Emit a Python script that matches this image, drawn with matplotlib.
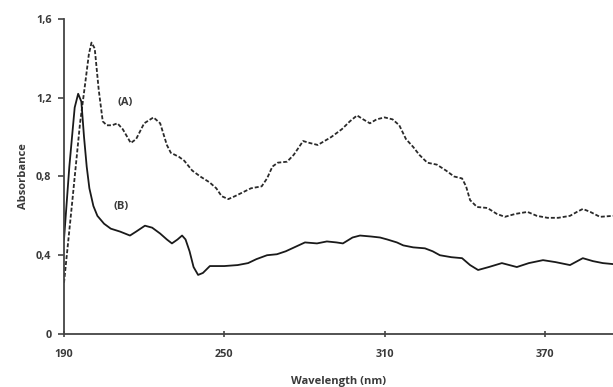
import matplotlib
matplotlib.use("Agg")
import matplotlib.pyplot as plt

# curve (A), dashed
wl_a = [190, 193, 196, 198, 199.3, 200.3, 201.5, 203, 204.5, 206, 208, 210, 212, 215, 217, 220,
        223.5, 226, 228.5, 230, 233, 235, 238, 241, 244.5, 247, 249, 251.5, 254, 257, 260, 264,
        266, 268, 270, 273.5, 276, 279.5, 282, 285, 290, 294, 297, 299.7, 302, 304.5, 307, 310,
        313, 315.5, 318, 320.7, 323, 326, 329.6, 333, 336, 339, 340.5, 342, 344.6, 348.5, 352,
        355, 359, 363.5, 367, 371, 375, 379.4, 382, 384.2, 387, 390.6, 395.5]
abs_a = [0.26, 0.66, 1.07, 1.28, 1.42, 1.48, 1.45, 1.24, 1.08, 1.06, 1.06, 1.07, 1.04, 0.97, 0.99, 1.07,
         1.10, 1.07, 0.96, 0.92, 0.90, 0.88, 0.83, 0.80, 0.77, 0.74, 0.70, 0.685, 0.70, 0.72, 0.74, 0.75,
         0.79, 0.85, 0.87, 0.875, 0.91, 0.98, 0.97, 0.96, 1.00, 1.04, 1.08, 1.11, 1.09, 1.07, 1.09, 1.10,
         1.09, 1.06, 0.99, 0.95, 0.91, 0.87, 0.86, 0.83, 0.80, 0.79, 0.75, 0.68, 0.645, 0.64, 0.61,
         0.595, 0.61, 0.62, 0.60, 0.59, 0.59, 0.60, 0.62, 0.635, 0.62, 0.595, 0.60]

# curve (B), solid
wl_b = [190, 192, 194, 195.3, 196.5, 197.5, 198.5, 199.5, 201, 202.5, 205, 207.5, 211, 214.7, 217,
        220.3, 223, 226, 228.5, 230.4, 232.5, 234.2, 235.5, 237, 238.5, 240.2, 242, 244.6, 250, 255,
        258.9, 262, 266, 269.7, 273, 277, 280.2, 284.7, 288.4, 292, 294.4, 298, 300.8, 305, 308.3,
        311, 314.6, 317, 320.7, 325.1, 328, 330.7, 335, 339, 342, 345, 349, 353.9, 359.5, 364,
        369.3, 374, 379.4, 384.2, 388, 391.7, 395.5]
abs_b = [0.48, 0.85, 1.15, 1.22, 1.18, 1.00, 0.85, 0.74, 0.65, 0.60, 0.56, 0.535, 0.52, 0.50, 0.52,
         0.55, 0.54, 0.51, 0.48, 0.46, 0.48, 0.50, 0.48, 0.42, 0.34, 0.30, 0.31, 0.345, 0.345, 0.35,
         0.36, 0.38, 0.40, 0.405, 0.42, 0.445, 0.465, 0.46, 0.47, 0.465, 0.46, 0.49, 0.50, 0.495, 0.49,
         0.48, 0.465, 0.45, 0.44, 0.435, 0.42, 0.40, 0.39, 0.385, 0.35, 0.325, 0.34, 0.36, 0.34, 0.36,
         0.375, 0.365, 0.35, 0.385, 0.37, 0.36, 0.355]

xticks = [190, 250, 310, 370]
yticks = [0, 0.4, 0.8, 1.2, 1.6]
ytick_labels = ["0", "0,4", "0,8", "1,2", "1,6"]

plt.rcParams['font.family'] = ['Open Sans', 'DejaVu Sans']
txt = '#3a3a3a'

fig = plt.figure(figsize=(6.13, 3.87), dpi=100)
ax = fig.add_axes([0.1044, 0.137, 0.8956, 0.814])

ax.plot(wl_a, abs_a, color='#2a2a2a', lw=1.3, linestyle=(0, (2.2, 1.1)))
ax.plot(wl_b, abs_b, color='#1a1a1a', lw=1.3)

ax.set_xlim(190, 395.5)
ax.set_ylim(0, 1.6)
ax.set_xticks(xticks)
ax.set_yticks(yticks)
ax.set_yticklabels(ytick_labels)

for s in ['top', 'right']:
    ax.spines[s].set_visible(False)
for s in ['left', 'bottom']:
    ax.spines[s].set_color('#444444')
    ax.spines[s].set_linewidth(1.3)

ax.tick_params(axis='both', colors='#444444', labelcolor=txt, labelsize=7.8, width=1.2, length=4)
ax.tick_params(axis='x', direction='inout', pad=9)
ax.tick_params(axis='y', pad=5)
for lab in ax.get_xticklabels() + ax.get_yticklabels():
    lab.set_fontweight('bold')

ax.set_xlabel("Wavelength (nm)", fontsize=8, color=txt, fontweight='bold', labelpad=11)
ax.set_ylabel("Absorbance", fontsize=8, color=txt, fontweight='bold', labelpad=5)

ax.text(212.8, 1.175, "(A)", fontsize=8, color=txt, fontweight='bold', ha='center', va='center')
ax.text(211.3, 0.645, "(B)", fontsize=8, color=txt, fontweight='bold', ha='center', va='center')

fig.savefig("out.png", dpi=100)
